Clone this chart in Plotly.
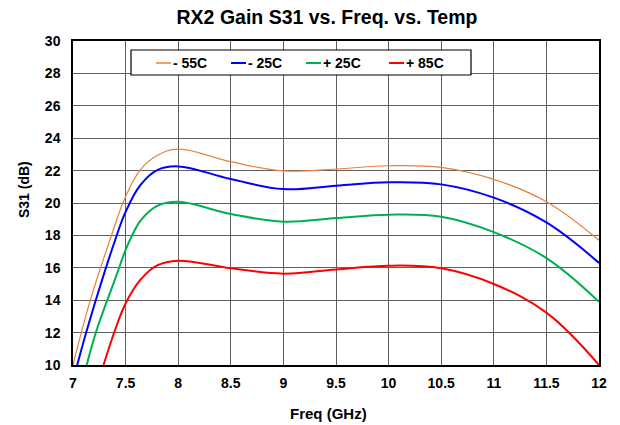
import plotly.graph_objects as go

# Data
freq_m55 = [7.0, 7.16, 7.35, 7.5, 7.64, 7.8, 8.0, 8.5, 9.0, 9.5, 10.0, 10.5, 11.0, 11.5, 12.0]
s31_m55 = [10.0, 13.9, 17.7, 20.4, 22.05, 22.93, 23.33, 22.55, 21.98, 22.1, 22.3, 22.2, 21.46, 20.08, 17.7]

freq_m25 = [7.04, 7.16, 7.4, 7.5, 7.64, 7.8, 8.0, 8.5, 9.0, 9.5, 10.0, 10.5, 11.0, 11.5, 12.0]
s31_m25 = [10.0, 12.78, 17.7, 19.45, 21.1, 22.03, 22.26, 21.48, 20.86, 21.07, 21.28, 21.15, 20.33, 18.8, 16.3]

freq_p25 = [7.13, 7.225, 7.4, 7.5, 7.57, 7.64, 7.8, 8.0, 8.5, 9.0, 9.5, 10.0, 10.5, 11.0, 11.5, 12.0]
s31_p25 = [10.0, 12.16, 15.3, 17.1, 18.1, 18.9, 19.82, 20.08, 19.32, 18.85, 19.07, 19.28, 19.15, 18.2, 16.6, 13.9]

freq_p85 = [7.29, 7.4, 7.5, 7.64, 7.8, 8.0, 8.5, 9.0, 9.5, 10.0, 10.5, 11.0, 11.5, 12.0]
s31_p85 = [10.0, 12.16, 13.8, 15.25, 16.15, 16.44, 15.97, 15.64, 15.9, 16.13, 15.97, 15.0, 13.23, 10.0]

names = ["- 55C", "- 25C", "+ 25C", "+ 85C"]
colors = ["#E8803A", "#0000FF", "#00B050", "#FF0000"]
widths = [1.2, 2, 2, 2]

x_ticks = [7, 7.5, 8, 8.5, 9, 9.5, 10, 10.5, 11, 11.5, 12]
x_tick_labels = ["7", "7.5", "8", "8.5", "9", "9.5", "10", "10.5", "11", "11.5", "12"]
y_ticks = [10, 12, 14, 16, 18, 20, 22, 24, 26, 28, 30]

series = [(freq_m55, s31_m55), (freq_m25, s31_m25), (freq_p25, s31_p25), (freq_p85, s31_p85)]

W, H = 620, 425
L, R, T, B = 73, 21, 41, 60
pw, ph = W - L - R, H - T - B


def px_x(p):
    return (p - L) / pw


def px_y(p):
    return (H - B - p) / ph


fig = go.Figure()
for (fx, fy), n, c, w in zip(series, names, colors, widths):
    fig.add_trace(go.Scatter(x=fx, y=fy, name=n, mode="lines", showlegend=False,
                             line=dict(color=c, width=w, shape="spline", smoothing=1.1)))

font = "Liberation Sans, Arial, sans-serif"

# legend box (drawn like the reference: short line samples followed by text)
shapes = [dict(type="rect", xref="paper", yref="paper",
               x0=px_x(131), x1=px_x(471), y0=px_y(75), y1=px_y(50),
               line=dict(color="black", width=1.2), fillcolor="white", layer="above")]
annotations = []
item_starts = [156, 231, 306, 389]
legend_y = 63
for start, n, c, w in zip(item_starts, names, colors, widths):
    shapes.append(dict(type="line", xref="paper", yref="paper",
                       x0=px_x(start), x1=px_x(start + 15), y0=px_y(legend_y), y1=px_y(legend_y),
                       line=dict(color=c, width=max(w, 1.5)), layer="above"))
    annotations.append(dict(text="<b>" + n + "</b>", xref="paper", yref="paper",
                            x=px_x(start + 15), y=px_y(legend_y), xanchor="left", yanchor="middle",
                            showarrow=False, font=dict(family=font, size=14, color="black")))

annotations += [
    dict(text="<b>Freq (GHz)</b>", xref="paper", yref="paper", x=px_x(328), y=px_y(413),
         xanchor="center", yanchor="middle", showarrow=False,
         font=dict(family=font, size=15, color="black")),
    dict(text="<b>S31 (dB)</b>", xref="paper", yref="paper", x=px_x(24), y=px_y(190),
         xanchor="center", yanchor="middle", showarrow=False, textangle=-90,
         font=dict(family=font, size=14, color="black")),
]

fig.update_layout(
    width=W, height=H,
    margin=dict(l=L, r=R, t=T, b=B),
    paper_bgcolor="white", plot_bgcolor="white",
    title=dict(text="<b>RX2 Gain S31 vs. Freq. vs. Temp</b>", x=327 / W, xanchor="center",
               xref="container", y=1 - 17 / H, yanchor="middle",
               font=dict(family=font, size=19.5, color="black")),
    font=dict(family=font, color="black"),
    showlegend=False,
    shapes=shapes,
    annotations=annotations,
)
fig.update_xaxes(range=[7, 12], tickvals=x_ticks, ticktext=x_tick_labels,
                 showgrid=True, gridcolor="#606060", gridwidth=1.3,
                 showline=True, linecolor="black", linewidth=1.5, mirror=True,
                 ticks="", ticklabelstandoff=4,
                 tickfont=dict(family=font, size=14, color="black", weight="bold"),
                 zeroline=False)
fig.update_yaxes(range=[10, 30], tickvals=y_ticks,
                 showgrid=True, gridcolor="#606060", gridwidth=1.3,
                 showline=True, linecolor="black", linewidth=1.5, mirror=True,
                 ticks="", ticklabelstandoff=8,
                 tickfont=dict(family=font, size=14, color="black", weight="bold"),
                 zeroline=False)

fig.write_html("out.html")
